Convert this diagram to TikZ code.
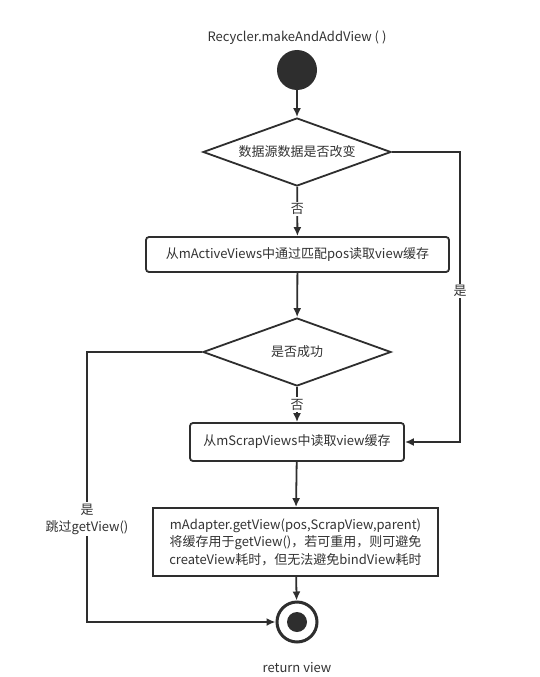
\documentclass[tikz,border=0pt]{standalone}
\usepackage{fontspec}
\setmainfont{Noto Sans CJK SC}
\usepackage{xcolor}
\usepackage{tikz}
\usetikzlibrary{shapes.geometric,arrows.meta}
\tikzset{>={Latex[length=9pt,width=8pt]}}
\definecolor{myline}{HTML}{2E2E2E}
\definecolor{mytext}{HTML}{333333}
\tikzset{
	flow/.style={line width=1.8pt,myline},
	decision/.style={diamond,draw=myline,line width=1.8pt,inner sep=0pt,aspect=2.76,minimum width=188pt,minimum height=68pt,text=mytext},
	process/.style={draw=myline,line width=1.8pt,rounded corners=3pt,inner sep=0pt,text=mytext},
	branch/.style={fill=white,inner sep=1.5pt,text=mytext}
}

\begin{document}
\begin{tikzpicture}[x=1pt,y=-1pt,font=\fontsize{13}{17.5}\selectfont]
		\useasboundingbox[fill=white] (0,0) rectangle (539,677);

		% start and end
		\node[text=mytext] (title) at (297,38) {Recycler.makeAndAddView ( )};
		\node[circle,fill=myline,minimum size=40pt,inner sep=0pt] (start) at (297,70) {};
		\node[circle,draw=myline,line width=3pt,minimum size=40pt,inner sep=0pt] (stop) at (297,622) {};
		\node[circle,fill=myline,minimum size=20pt,inner sep=0pt] (stopdot) at (stop) {};
		\node[text=mytext] (ret) at (297,668) {return view};

		% decisions and steps
		\node[decision] (changed) at (297,152) {数据源数据是否改变};
		\node[process,minimum width=303pt,minimum height=35pt] (active) at (297.5,254.5) {从mActiveViews中通过匹配pos读取view缓存};
		\node[decision] (success) at (297,352) {是否成功};
		\node[process,minimum width=214pt,minimum height=38pt] (scrap) at (297,442) {从mScrapViews中读取view缓存};
		\node[process,rounded corners=0pt,minimum width=285pt,minimum height=68pt,align=center] (adapter) at (295.5,542)
			{mAdapter.getView(pos,ScrapView,parent)\\将缓存用于getView()，若可重用，则可避免\\createView耗时，但无法避免bindView耗时};

		% corners of the side paths
		\coordinate (rtop) at (460,152);
		\coordinate (rbot) at (460,442);
		\coordinate (ltop) at (87,352);
		\coordinate (lbot) at (87,622);

		\draw[->,flow] (start) -- (changed);
		\draw[->,flow] (changed) -- (active) node[branch,pos=0.45] {否};
		\draw[->,flow] (active) -- (success);
		\draw[->,flow] (success) -- (scrap) node[branch,pos=0.5] {否};
		\draw[->,flow] (scrap) -- (adapter);
		\draw[->,flow] (adapter) -- (stop);
		\draw[->,flow] (changed.east) -- (rtop) -- (rbot) node[branch,pos=0.48] {是} -- (scrap.east);
		\draw[->,flow] (success.west) -- (ltop) -- (lbot) node[branch,pos=0.62,align=center] {是\\跳过getView()} -- (stop.west);
	\end{tikzpicture}
\end{document}
